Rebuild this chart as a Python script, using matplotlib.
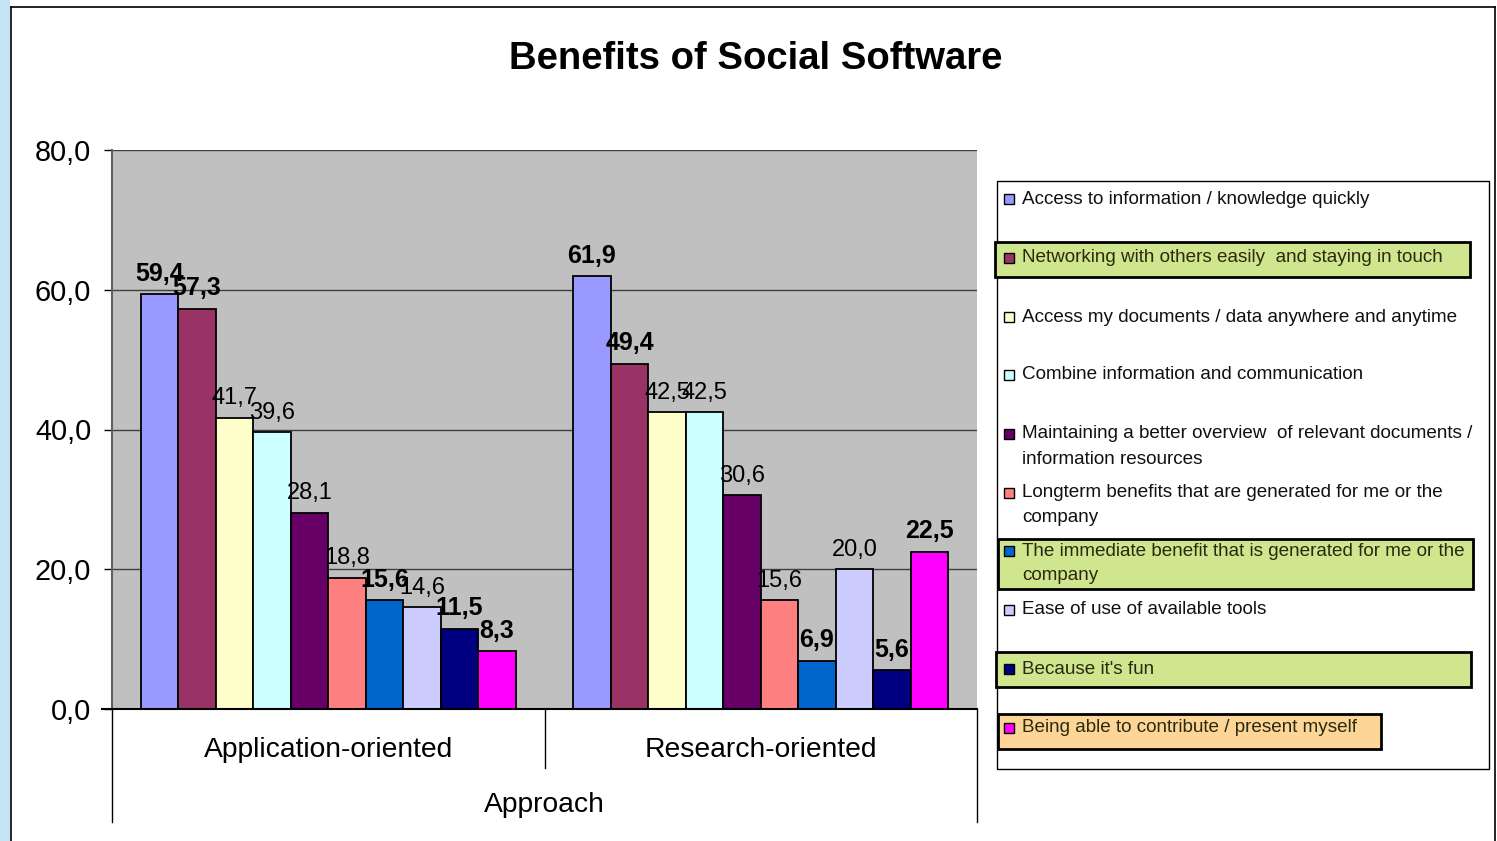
import numpy as np
import matplotlib
matplotlib.use("Agg")
import matplotlib.pyplot as plt
from matplotlib.patches import Rectangle
from matplotlib.lines import Line2D

# ---------------- data ----------------
title = "Benefits of Social Software"
categories = ["Application-oriented", "Research-oriented"]
axis_title = "Approach"
series_labels = [
    "Access to information / knowledge quickly",
    "Networking with others easily  and staying in touch",
    "Access my documents / data anywhere and anytime",
    "Combine information and communication",
    "Maintaining a better overview  of relevant documents /\ninformation resources",
    "Longterm benefits that are generated for me or the\ncompany",
    "The immediate benefit that is generated for me or the\ncompany",
    "Ease of use of available tools",
    "Because it's fun",
    "Being able to contribute / present myself",
]
application = [59.4, 57.3, 41.7, 39.6, 28.1, 18.8, 15.6, 14.6, 11.5, 8.3]
research = [61.9, 49.4, 42.5, 42.5, 30.6, 15.6, 6.9, 20.0, 5.6, 22.5]
yticks = [0, 20, 40, 60, 80]
ytick_labels = ["0,0", "20,0", "40,0", "60,0", "80,0"]

# ---------------- styles ----------------
colors = ["#9999FF", "#993366", "#FFFFCC", "#CCFFFF", "#660066",
          "#FF8080", "#0066CC", "#CCCCFF", "#000080", "#FF00FF"]
bold_labels = [True, True, False, False, False, False, True, False, True, True]
legend_highlight = {1: "#cfe68e", 6: "#cfe68e", 8: "#cfe68e", 9: "#fdd596"}

plt.rcParams['font.family'] = ['Liberation Sans', 'DejaVu Sans']

W, H = 1497, 841
fig = plt.figure(figsize=(W / 100, H / 100), dpi=100)
fig.patch.set_facecolor("white")


def fx(x):
    return x / W


def fy(y):
    return 1 - y / H


# left decorative stripe and chart border
fig.patches.append(Rectangle((0, 0), fx(10), 1, transform=fig.transFigure,
                             facecolor="#c6e3f6", edgecolor="none", zorder=0))
for (x0, y0, x1, y1) in [(11, 7, 1495, 7), (11, 7, 11, 841), (1495, 7, 1495, 841)]:
    fig.add_artist(Line2D([fx(x0), fx(x1)], [fy(y0), fy(y1)], transform=fig.transFigure,
                          color="black", lw=1.2))

# title
fig.text(fx(756), fy(59), title, ha="center", va="center", fontsize=27.5,
         fontweight="bold")

# axes
ax = fig.add_axes([fx(112), fy(709), fx(977) - fx(112), fy(150) - fy(709)])
ax.set_facecolor("#c0c0c0")

n = len(series_labels)
x = np.arange(len(categories))
width = 37.5 / 432.5


def fmt(v):
    return f"{v:.1f}".replace(".", ",")


for i in range(n):
    vals = [application[i], research[i]]
    offs = (i - (n - 1) / 2) * width
    bars = ax.bar(x + offs, vals, width, color=colors[i], edgecolor="black",
                  linewidth=1.3, zorder=3)
    for b, v in zip(bars, vals):
        ax.annotate(fmt(v), (b.get_x() + b.get_width() / 2, v), xytext=(0, 6),
                    textcoords="offset points", ha="center", va="bottom",
                    fontsize=18 if bold_labels[i] else 17,
                    fontweight="bold" if bold_labels[i] else "normal", zorder=5)

ax.set_xlim(-0.5, 1.5)
ax.set_ylim(0, 80)
ax.set_yticks(yticks)
ax.set_yticklabels(ytick_labels)
ax.set_xticks([])
ax.yaxis.grid(True, color="#404040", linewidth=1)
ax.set_axisbelow(True)
ax.tick_params(axis="y", length=6, width=1, direction="out", labelsize=20.8, pad=9)
for s in ["top", "right"]:
    ax.spines[s].set_visible(False)
ax.spines["left"].set_color("#606060")
ax.spines["left"].set_linewidth(1.5)
ax.spines["bottom"].set_visible(False)

# category axis (two-level)
ph = 709 - 150
ax.add_line(Line2D([-0.012, 1], [0, 0], transform=ax.transAxes, color="black",
                   lw=1.5, clip_on=False, zorder=6))
ax.add_line(Line2D([0, 0], [0, -(822 - 709) / ph], transform=ax.transAxes,
                   color="black", lw=1, clip_on=False))
ax.add_line(Line2D([1, 1], [0, -(822 - 709) / ph], transform=ax.transAxes,
                   color="black", lw=1, clip_on=False))
ax.add_line(Line2D([0.5, 0.5], [0, -(768 - 709) / ph], transform=ax.transAxes,
                   color="black", lw=1, clip_on=False))
for xi, c in zip(x, categories):
    ax.text(xi, -(750 - 709) / ph, c, transform=ax.get_xaxis_transform(),
            ha="center", va="center", fontsize=20.3)
ax.text(0.5, -(805 - 709) / ph, axis_title, transform=ax.transAxes,
        ha="center", va="center", fontsize=20.3)

# legend
fig.patches.append(Rectangle((fx(997), fy(769)), fx(1489) - fx(997), fy(181) - fy(769),
                             transform=fig.transFigure, facecolor="white",
                             edgecolor="black", lw=1, zorder=1))
entry_y = [199, 258, 317, 375, 434, 493, 551, 610, 669, 728]
highlight_boxes = {1: (995, 242, 1470, 277), 6: (998, 539, 1473, 589),
                   8: (996, 652, 1471, 687), 9: (998, 714, 1381, 749)}
for i, lab in enumerate(series_labels):
    yc = entry_y[i]
    if i in highlight_boxes:
        x0, y0, x1, y1 = highlight_boxes[i]
        fig.patches.append(Rectangle((fx(x0), fy(y1)), fx(x1) - fx(x0), fy(y0) - fy(y1),
                                     transform=fig.transFigure,
                                     facecolor=legend_highlight[i], edgecolor="black",
                                     lw=2, zorder=2))
    fig.patches.append(Rectangle((fx(1004), fy(yc + 5)), fx(10) - fx(0), fy(yc - 5) - fy(yc + 5),
                                 transform=fig.transFigure, facecolor=colors[i],
                                 edgecolor="black", lw=1, zorder=3))
    for k, line in enumerate(lab.split("\n")):
        fig.text(fx(1022), fy(yc + 25 * k), line, ha="left", va="center",
                 fontsize=13.6, color="#111111" if i not in highlight_boxes else "#2a2a10",
                 zorder=4)

fig.savefig("out.png", dpi=100)
